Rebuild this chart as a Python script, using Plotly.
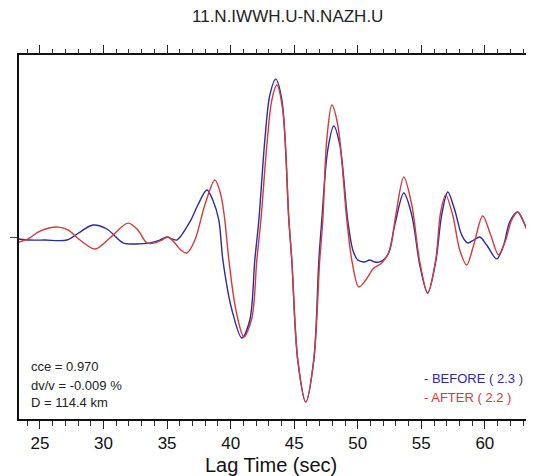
import plotly.graph_objects as go

# BEFORE (blue) waveform samples: lag time (s), normalized amplitude
before_t = [23.35, 24.21, 25.39, 27.12, 28.15, 29.17, 30.27, 31.53, 32.47, 33.65, 34.43, 34.98,
            35.38, 35.77, 36.79, 37.42, 38.13, 38.60, 39.07, 39.39, 40.10, 40.88, 41.51, 41.90,
            42.22, 42.69, 43.08, 43.55, 44.03, 44.58, 44.81, 45.28, 45.91, 46.54, 46.94, 47.17,
            47.64, 48.11, 48.59, 49.21, 49.61, 50.00, 50.55, 50.94, 51.34, 51.73, 52.36, 52.91,
            53.62, 54.25, 54.88, 55.50, 56.13, 56.60, 57.08, 57.63, 58.18, 58.65, 59.12, 59.60,
            60.14, 60.93, 61.48, 61.95, 62.58, 63.05, 63.52]
before_amp = [-0.012, -0.019, -0.019, -0.019, 0.031, 0.075, 0.050, -0.037, -0.044, -0.037, -0.019, 0.0,
              -0.012, -0.019, 0.094, 0.200, 0.294, 0.230, 0.106, -0.144, -0.456, -0.631, -0.519, -0.144,
              0.106, 0.606, 0.887, 0.987, 0.856, 0.106, -0.144, -0.769, -1.031, -0.769, -0.144, 0.106,
              0.544, 0.694, 0.575, 0.106, -0.081, -0.144, -0.156, -0.144, -0.156, -0.156, -0.112, 0.075,
              0.275, 0.137, -0.175, -0.350, -0.156, 0.137, 0.281, 0.169, 0.012, -0.037, -0.019, 0.0,
              -0.050, -0.137, -0.050, 0.094, 0.156, 0.094, 0.0]

# AFTER (red) waveform samples
after_t = [23.35, 24.06, 25.00, 26.42, 27.20, 28.15, 29.33, 30.50, 31.92, 32.70, 33.41, 34.04,
           34.59, 35.06, 35.61, 36.08, 36.56, 37.19, 37.97, 38.76, 39.23, 39.54, 39.86, 40.41,
           41.04, 41.67, 42.06, 42.38, 42.85, 43.24, 43.63, 44.10, 44.58, 44.81, 45.28, 45.91,
           46.54, 47.01, 47.25, 47.56, 47.96, 48.43, 49.14, 49.53, 50.08, 50.63, 51.26, 51.89,
           52.52, 52.99, 53.62, 54.25, 54.88, 55.50, 56.13, 56.52, 56.92, 57.47, 58.02, 58.57,
           59.12, 59.83, 60.46, 61.08, 61.64, 62.11, 62.58, 63.05, 63.52]
after_amp = [-0.031, -0.012, 0.037, 0.062, 0.044, -0.019, -0.075, -0.006, 0.087, 0.044, -0.037, -0.037,
             -0.019, 0.0, -0.037, -0.081, -0.100, -0.019, 0.200, 0.356, 0.262, 0.106, -0.144, -0.456,
             -0.625, -0.506, -0.144, 0.106, 0.575, 0.856, 0.950, 0.794, 0.106, -0.144, -0.769, -1.031,
             -0.769, -0.144, 0.106, 0.606, 0.825, 0.700, 0.106, -0.144, -0.312, -0.269, -0.194, -0.162,
             -0.081, 0.137, 0.375, 0.200, -0.156, -0.350, -0.144, 0.156, 0.262, 0.137, -0.081, -0.175,
             -0.050, 0.131, 0.012, -0.112, -0.019, 0.106, 0.156, 0.094, 0.0]

title_text = "11.N.IWWH.U-N.NAZH.U"
x_title = "Lag Time (sec)"
stats_lines = ["cce = 0.970", "dv/v = -0.009 %", "D = 114.4 km"]
legend_lines = ["- BEFORE ( 2.3 )", "- AFTER ( 2.2 )"]
x_ticks = [25, 30, 35, 40, 45, 50, 55, 60]

BLUE = "#2b2ba6"
RED = "#d43a3a"
FONT = "Liberation Sans, Arial, sans-serif"
X_RANGE = [23.35, 63.55]
Y_RANGE = [-1.1375, 1.1375]

fig = go.Figure()
fig.add_trace(go.Scatter(x=before_t, y=before_amp, mode="lines",
                         line=dict(color=BLUE, width=1.4, shape="spline", smoothing=0.9),
                         showlegend=False, hoverinfo="skip"))
fig.add_trace(go.Scatter(x=after_t, y=after_amp, mode="lines",
                         line=dict(color=RED, width=1.4, shape="spline", smoothing=0.9),
                         showlegend=False, hoverinfo="skip"))
# invisible trace to anchor the mirrored (top/right) tick axes
fig.add_trace(go.Scatter(x=[X_RANGE[0]], y=[0], xaxis="x2", yaxis="y2", mode="markers",
                         marker=dict(opacity=0), showlegend=False, hoverinfo="skip"))

# the page body has an 8px default margin, so the figure is 8px smaller on each axis
fig.update_layout(
    width=526, height=468,
    margin=dict(l=11, r=4, t=47, b=57, autoexpand=False),
    paper_bgcolor="white", plot_bgcolor="white",
    font=dict(family=FONT, color="#111"),
    xaxis=dict(range=X_RANGE, tickvals=x_ticks, ticks="outside", ticklen=8,
               tickwidth=1, tickcolor="#222", showline=True, linecolor="#111", linewidth=1.6,
               mirror=True, showgrid=False, zeroline=False, automargin=False,
               tickfont=dict(size=17, color="#111"),
               minor=dict(dtick=1, tick0=0, ticks="outside", ticklen=5, tickcolor="#333", showgrid=False)),
    yaxis=dict(range=Y_RANGE, tickvals=[0], showticklabels=False, ticks="outside",
               ticklen=7, tickcolor="#444", showline=True, linecolor="#111", linewidth=1.6,
               mirror=True, showgrid=False, zeroline=False, automargin=False),
    xaxis2=dict(range=X_RANGE, overlaying="x", side="top", anchor="y", tickvals=x_ticks,
                ticks="outside", ticklen=9, tickcolor="#222", showticklabels=False,
                showline=False, showgrid=False, zeroline=False, automargin=False,
                minor=dict(dtick=1, tick0=0, ticks="outside", ticklen=5, tickcolor="#333", showgrid=False)),
    yaxis2=dict(range=Y_RANGE, overlaying="y", side="right", anchor="x", tickvals=[0],
                ticks="outside", ticklen=5, tickcolor="#444", showticklabels=False,
                showline=False, showgrid=False, zeroline=False, automargin=False),
)

# title and axis title
fig.add_annotation(text=title_text, x=(287 - 19) / 511, y=1 + (55 - 17) / 364, xref="paper", yref="paper",
                   xanchor="center", yanchor="middle", showarrow=False,
                   font=dict(size=17, color="#222", family=FONT))
fig.add_annotation(text=x_title, x=(271 - 19) / 511, y=-(465 - 419) / 364, xref="paper", yref="paper",
                   xanchor="center", yanchor="middle", showarrow=False,
                   font=dict(size=20, color="#111", family=FONT))

stat_y = [0.143, 0.091, 0.044]
for txt, yy in zip(stats_lines, stat_y):
    fig.add_annotation(text=txt, x=0.0196, y=yy, xref="paper", yref="paper",
                       xanchor="left", yanchor="middle", showarrow=False,
                       font=dict(size=13, color="#222", family=FONT))

leg_y = [0.11, 0.0604]
for txt, yy, c in zip(legend_lines, leg_y, [BLUE, RED]):
    fig.add_annotation(text=txt, x=0.789, y=yy, xref="paper", yref="paper",
                       xanchor="left", yanchor="middle", showarrow=False,
                       font=dict(size=13, color=c, family=FONT))

fig.write_html("out.html")
